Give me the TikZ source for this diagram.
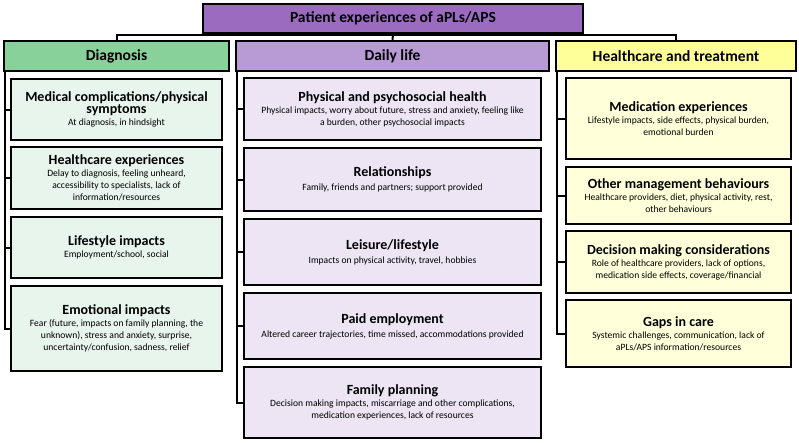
\documentclass[tikz,border=0pt]{standalone}
\usepackage{fontspec}
\setmainfont{Carlito}
\newcommand{\ttl}{\bfseries\fontsize{14}{15.5}\selectfont}
\newcommand{\tsm}{\fontsize{9.6}{11.5}\selectfont}
\begin{document}
\begin{tikzpicture}[x=1pt,y=-1pt,
  bx/.style={draw=black,line width=2pt,rectangle,inner sep=2pt,align=center,anchor=north west},
  hd/.style={bx,font=\bfseries\fontsize{15.5}{17}\selectfont},
  ln/.style={line width=2pt}]
\definecolor{gH}{HTML}{88D19A}\definecolor{gL}{HTML}{E8F5EC}
\definecolor{pH}{HTML}{B89AD4}\definecolor{pL}{HTML}{EDE4F4}
\definecolor{yH}{HTML}{FFFF99}\definecolor{yL}{HTML}{FFFFD9}
\definecolor{tP}{HTML}{9B6BBF}
\useasboundingbox (0,0) rectangle (799,442);
\newcommand{\cbox}[7]{\node[bx,fill=#2,minimum width=#5,minimum height=#6] (#1) at (#3,#4) {}; \node[align=center] at (#1.center) {#7};}
\node[hd,fill=tP,minimum width=380,minimum height=29] (T) at (202,3) {Patient experiences of aPLs/APS};
\node[hd,fill=gH,minimum width=225,minimum height=30] (D) at (3,40) {Diagnosis};
\node[hd,fill=pH,minimum width=313,minimum height=30] (L) at (235,40) {Daily life};
\node[hd,fill=yH,minimum width=240,minimum height=30] (H) at (555,40) {Healthcare and treatment};
\coordinate (bar) at (391,35);
\draw[ln] (T.south) -- (L.north);
\draw[ln] (D.north) |- (bar) -| (H.north);
% Diagnosis
\cbox{d1}{gL}{10}{78}{211}{61}{{\ttl Medical complications/physical}\\{\ttl symptoms}\\{\tsm At diagnosis, in hindsight}}
\cbox{d2}{gL}{10}{146}{211}{62}{{\ttl Healthcare experiences}\\{\tsm Delay to diagnosis, feeling unheard,}\\{\tsm accessibility to specialists, lack of}\\{\tsm information/resources}}
\cbox{d3}{gL}{10}{216}{211}{61}{{\ttl Lifestyle impacts}\\{\tsm Employment/school, social}}
\cbox{d4}{gL}{10}{285}{211}{85}{{\ttl Emotional impacts}\\{\tsm Fear (future, impacts on family planning, the}\\{\tsm unknown), stress and anxiety, surprise,}\\{\tsm uncertainty/confusion, sadness, relief}}
\coordinate (ds) at (5,70);
\draw[ln] (ds) |- (d4.west);
\foreach \n in {d1,d2,d3} \draw[ln] (\n.west) -- (\n.west -| ds);
% Daily life
\cbox{l1}{pL}{243}{77}{297}{62}{{\ttl Physical and psychosocial health}\\{\tsm Physical impacts, worry about future, stress and anxiety, feeling like}\\{\tsm a burden, other psychosocial impacts}}
\cbox{l2}{pL}{243}{147}{297}{63}{{\ttl Relationships}\\[2pt]{\tsm Family, friends and partners; support provided}}
\cbox{l3}{pL}{243}{218}{297}{66}{{\ttl Leisure/lifestyle}\\[2pt]{\tsm Impacts on physical activity, travel, hobbies}}
\cbox{l4}{pL}{243}{292}{297}{66}{{\ttl Paid employment}\\[2pt]{\tsm Altered career trajectories, time missed, accommodations provided}}
\cbox{l5}{pL}{243}{366}{297}{71}{{\ttl Family planning}\\{\tsm Decision making impacts, miscarriage and other complications,}\\{\tsm medication experiences, lack of resources}}
\coordinate (ls) at (237,70);
\draw[ln] (ls) |- (l5.west);
\foreach \n in {l1,l2,l3,l4} \draw[ln] (\n.west) -- (\n.west -| ls);
% Healthcare
\cbox{h1}{yL}{565}{77}{225}{81}{{\ttl Medication experiences}\\{\tsm Lifestyle impacts, side effects, physical burden,}\\{\tsm emotional burden}}
\cbox{h2}{yL}{565}{166}{225}{57}{{\ttl Other management behaviours}\\{\tsm Healthcare providers, diet, physical activity, rest,}\\{\tsm other behaviours}}
\cbox{h3}{yL}{565}{230}{225}{62}{{\ttl Decision making considerations}\\{\tsm Role of healthcare providers, lack of options,}\\{\tsm medication side effects, coverage/financial}}
\cbox{h4}{yL}{565}{299}{225}{67}{{\ttl Gaps in care}\\{\tsm Systemic challenges, communication, lack of}\\{\tsm aPLs/APS information/resources}}
\coordinate (hs) at (557,70);
\draw[ln] (hs) |- (h4.west);
\foreach \n in {h1,h2,h3} \draw[ln] (\n.west) -- (\n.west -| hs);
\end{tikzpicture}
\end{document}
